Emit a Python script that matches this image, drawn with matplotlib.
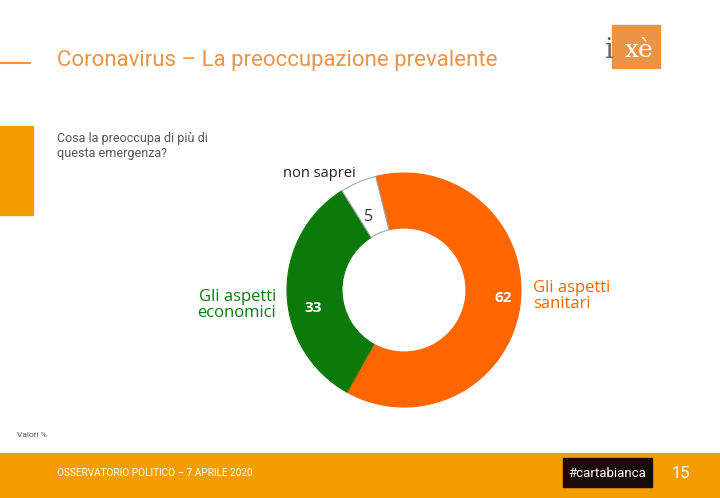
import matplotlib.pyplot as plt
from matplotlib.patches import Rectangle

# data
categories = ['Gli aspetti\nsanitari', 'Gli aspetti\neconomici', 'non saprei']
values = [62, 33, 5]
colors = ['#ff6600', '#0b7a0b', '#ffffff']

W, H = 720, 498
narrow = ['Roboto', 'DejaVu Sans']
plain = ['Open Sans', 'DejaVu Sans']

fig = plt.figure(figsize=(W / 100, H / 100), dpi=100)


def fx(x):
    return x / W


def fy(y):
    return 1 - y / H


# background decorations
bg = fig.add_axes([0, 0, 1, 1])
bg.set_xlim(0, W)
bg.set_ylim(H, 0)
bg.axis('off')
bg.add_patch(Rectangle((0, 453), W, 45, color='#f59c00', zorder=0))
bg.add_patch(Rectangle((0, 126), 33, 89, color='#f59c00', zorder=0))
bg.plot([0, 30], [63, 63], color='#e8954a', lw=1.5)
# logo
bg.add_patch(Rectangle((612, 25), 48, 43, color='#ec9446'))
bg.text(609, 50, 'i', color='#666666', fontsize=20, family='DejaVu Serif', va='center', ha='center')
bg.text(639, 50, 'xè', color='white', fontsize=18, family='DejaVu Serif', va='center', ha='center')
# footer badge
bg.add_patch(Rectangle((563, 458), 89, 29, color='#1a0a0a'))
bg.text(607, 473, '#cartabianca', color='white', fontsize=9.5, family=narrow, va='center', ha='center')
bg.text(681, 473, '15', color='white', fontsize=12, family=narrow, va='center', ha='center')
bg.text(57, 473, 'OSSERVATORIO POLITICO – 7 APRILE 2020', color='white', fontsize=7.2,
        family=narrow, va='center', ha='left')
bg.text(17, 435, 'Valori %', color='#555555', fontsize=6, family=narrow, va='center')

# title and question
bg.text(57, 60, 'Coronavirus – La preoccupazione prevalente', color='#e8954a', fontsize=16,
        family=narrow, va='center', ha='left')
bg.text(57, 146, 'Cosa la preoccupa di più di\nquesta emergenza?', color='#555555', fontsize=9,
        family=narrow, va='center', ha='left', linespacing=1.15)

# donut
cx, cy, r = 404, 290, 117
ax = fig.add_axes([fx(cx - r), fy(cy + r), 2 * r / W, 2 * r / H])
wedges, _ = ax.pie(values, colors=colors, startangle=104, counterclock=False, radius=1,
                   wedgeprops=dict(width=0.47, edgecolor='#9aa7b5', linewidth=0.8))
for w in wedges[:2]:
    w.set_edgecolor(w.get_facecolor())
ax.set_xlim(-1, 1)
ax.set_ylim(-1, 1)
ax.set_aspect('equal')
ax.axis('off')

# value labels
ax.text(0.85, -0.07, str(values[0]), color='white', fontsize=11, fontweight='bold',
        family=plain, ha='center', va='center')
ax.text(-0.78, -0.15, str(values[1]), color='white', fontsize=11, fontweight='bold',
        family=plain, ha='center', va='center')
ax.text(-0.3, 0.62, str(values[2]), color='#333333', fontsize=11.5, family=plain,
        ha='center', va='center')

# category labels
bg.text(533, 296, categories[0], color='#ff6600', fontsize=12, family=plain,
        ha='left', va='center', linespacing=1.05)
bg.text(276, 305, categories[1], color='#0b7a0b', fontsize=12, family=plain,
        ha='right', va='center', linespacing=1.05)
bg.text(319, 173, categories[2], color='#222222', fontsize=10.5, family=plain,
        ha='center', va='center')

fig.savefig('out.png', dpi=100)
